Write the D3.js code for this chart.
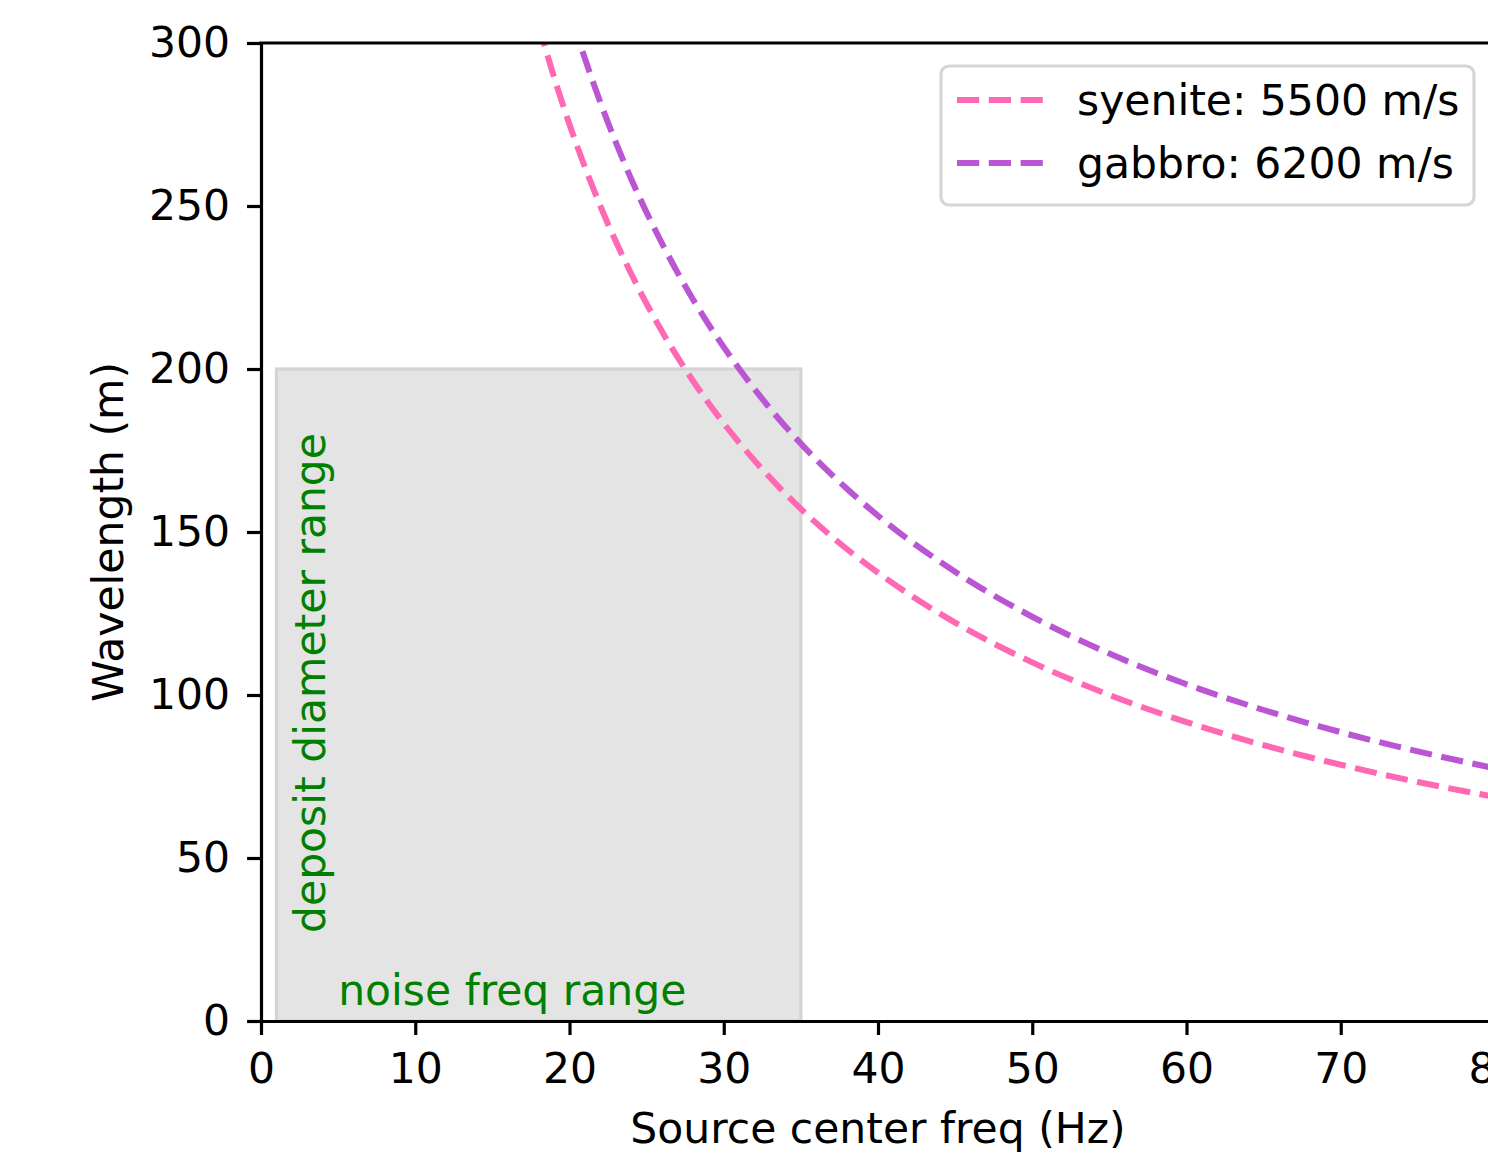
<!DOCTYPE html>
<html>
<head>
<meta charset="utf-8">
<script src="https://cdn.jsdelivr.net/npm/d3@7"></script>
<style>
  body { margin: 0; background: #fff; }
  svg { display: block; font-family: "DejaVu Sans", sans-serif; }
</style>
</head>
<body>
<div id="chart"></div>
<script>
// frequency samples (Hz) and wavelength (m)
const freqs = [18, 19, 20, 22, 24, 26, 28, 30, 32, 35, 38, 40, 45, 50, 55, 60, 65, 70, 75, 80];
const syeniteVals = [305.6, 289.5, 275, 250, 229.2, 211.5, 196.4, 183.3, 171.9, 157.1, 144.7, 137.5, 122.2, 110, 100, 91.7, 84.6, 78.6, 73.3, 68.75];
const gabbroVals = [344.4, 326.3, 310, 281.8, 258.3, 238.5, 221.4, 206.7, 193.8, 177.1, 163.2, 155, 137.8, 124, 112.7, 103.3, 95.4, 88.6, 82.7, 77.5];

const seriesNames = ["syenite: 5500 m/s", "gabbro: 6200 m/s"];
const seriesColors = ["#ff69b4", "#ba55d3"];

const xTicks = [0, 10, 20, 30, 40, 50, 60, 70, 80];
const yTicks = [0, 50, 100, 150, 200, 250, 300];

// shaded region: noise freq range x deposit diameter range
const noiseRange = [1, 35];
const depositRange = [0, 200];

const W = 1488, H = 1153;
const plot = { left: 261, right: 1495, top: 43, bottom: 1021 };
const lw = 3.2;
const fs = "42.5px";

const svg = d3.select("#chart").append("svg")
  .attr("width", W)
  .attr("height", H);

const x = d3.scaleLinear().domain([0, 80]).range([plot.left, plot.right]);
const y = d3.scaleLinear().domain([0, 300]).range([plot.bottom, plot.top]);

svg.append("clipPath").attr("id", "plot-clip")
  .append("rect")
  .attr("x", plot.left)
  .attr("y", plot.top)
  .attr("width", plot.right - plot.left)
  .attr("height", plot.bottom - plot.top);

// gray box
svg.append("rect")
  .attr("x", x(noiseRange[0]))
  .attr("y", y(depositRange[1]))
  .attr("width", x(noiseRange[1]) - x(noiseRange[0]))
  .attr("height", y(depositRange[0]) - y(depositRange[1]))
  .attr("fill", "#e4e4e4")
  .attr("stroke", "#d4d4d4")
  .attr("stroke-width", lw);

// box labels
svg.append("text")
  .attr("x", x(5))
  .attr("y", y(5))
  .style("font-size", fs)
  .style("fill", "green")
  .text("noise freq range");

svg.append("text")
  .attr("transform", `translate(${x(2) + 33},${y(27)}) rotate(-90)`)
  .style("font-size", fs)
  .style("fill", "green")
  .text("deposit diameter range");

// curves
const line = d3.line()
  .x((d, i) => x(freqs[i]))
  .y(d => y(d))
  .curve(d3.curveMonotoneX);

[syeniteVals, gabbroVals].forEach((vals, i) => {
  svg.append("path")
    .datum(vals)
    .attr("clip-path", "url(#plot-clip)")
    .attr("d", line)
    .attr("fill", "none")
    .attr("stroke", seriesColors[i])
    .attr("stroke-width", 6)
    .attr("stroke-dasharray", "22.2,9.6");
});

// axes
const xAxis = svg.append("g")
  .attr("transform", `translate(0,${plot.bottom})`)
  .call(d3.axisBottom(x).tickValues(xTicks).tickSize(14).tickSizeOuter(0).tickPadding(18));

const yAxis = svg.append("g")
  .attr("transform", `translate(${plot.left},0)`)
  .call(d3.axisLeft(y).tickValues(yTicks).tickSize(14).tickSizeOuter(0).tickPadding(17));

[xAxis, yAxis].forEach(g => {
  g.selectAll("path, line").attr("stroke", "#000").attr("stroke-width", lw);
  g.selectAll("text")
    .style("font-family", "DejaVu Sans")
    .style("font-size", fs)
    .attr("fill", "#000");
});

// top spine and right spine
svg.append("line")
  .attr("x1", plot.left).attr("x2", plot.right)
  .attr("y1", plot.top).attr("y2", plot.top)
  .attr("stroke", "#000").attr("stroke-width", lw)
  .attr("stroke-linecap", "square");
svg.append("line")
  .attr("x1", plot.right).attr("x2", plot.right)
  .attr("y1", plot.top).attr("y2", plot.bottom)
  .attr("stroke", "#000").attr("stroke-width", lw);

// axis labels
svg.append("text")
  .attr("x", (plot.left + plot.right) / 2)
  .attr("y", 1143)
  .attr("text-anchor", "middle")
  .style("font-size", fs)
  .text("Source center freq (Hz)");

svg.append("text")
  .attr("transform", `translate(123,${(plot.top + plot.bottom) / 2}) rotate(-90)`)
  .attr("text-anchor", "middle")
  .style("font-size", fs)
  .text("Wavelength (m)");

// legend
const legend = svg.append("g");
legend.append("rect")
  .attr("x", 941)
  .attr("y", 66)
  .attr("width", 533)
  .attr("height", 139)
  .attr("rx", 8)
  .attr("fill", "#fff")
  .attr("fill-opacity", 0.8)
  .attr("stroke", "#d6d6d6")
  .attr("stroke-width", lw);

seriesNames.forEach((name, i) => {
  const cy = 100 + i * 63;
  legend.append("line")
    .attr("x1", 957).attr("x2", 1045)
    .attr("y1", cy).attr("y2", cy)
    .attr("stroke", seriesColors[i])
    .attr("stroke-width", 6)
    .attr("stroke-dasharray", "22.2,9.6");
  legend.append("text")
    .attr("x", 1077)
    .attr("y", cy + 15)
    .style("font-size", fs)
    .text(name);
});
</script>
</body>
</html>
